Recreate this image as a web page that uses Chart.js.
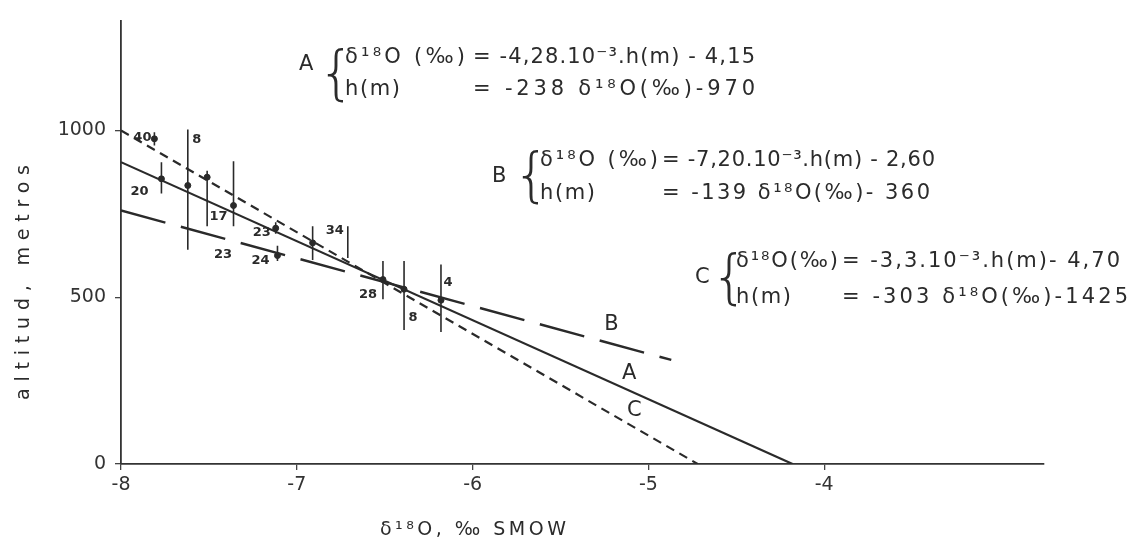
<!DOCTYPE html>
<html>
<head>
<meta charset="utf-8">
<script src="https://cdn.jsdelivr.net/npm/chart.js@4.4.1/dist/chart.umd.min.js"></script>
<style>
    html, body { margin: 0; padding: 0; background: #fff; }
    #wrap { position: relative; width: 1135px; height: 541px; }
    #chart { position: absolute; left: 0; top: 0; }
    #notes { position: absolute; left: 0; top: 0; pointer-events: none; }
    #notes text { font-family: 'DejaVu Sans', sans-serif; fill: #2b2b2b; }
</style>
</head>
<body>
<div id="wrap">
    <canvas id="chart" width="1135" height="541"></canvas>
    <svg id="notes" width="1135" height="541">
        <!-- A -->
        <text x="299" y="70" font-size="21">A</text>
        <text x="318" y="93" font-size="58" font-family="Liberation Sans" font-weight="100">{</text>
        <text x="345" y="63" font-size="21" textLength="120" lengthAdjust="spacing">δ¹⁸O (‰)</text>
        <text x="473" y="63" font-size="21" textLength="282" lengthAdjust="spacing">= -4,28.10⁻³.h(m) - 4,15</text>
        <text x="345" y="95" font-size="21" textLength="55" lengthAdjust="spacing">h(m)</text>
        <text x="473" y="95" font-size="21" textLength="282" lengthAdjust="spacing">= -238 δ¹⁸O(‰)-970</text>
        <!-- B -->
        <text x="492" y="182" font-size="21">B</text>
        <text x="513" y="195" font-size="58" font-family="Liberation Sans" font-weight="100">{</text>
        <text x="540" y="166" font-size="21" textLength="118" lengthAdjust="spacing">δ¹⁸O (‰)</text>
        <text x="662" y="166" font-size="21" textLength="273" lengthAdjust="spacing">= -7,20.10⁻³.h(m) - 2,60</text>
        <text x="540" y="199" font-size="21" textLength="55" lengthAdjust="spacing">h(m)</text>
        <text x="662" y="199" font-size="21" textLength="268" lengthAdjust="spacing">= -139 δ¹⁸O(‰)- 360</text>
        <!-- C -->
        <text x="695" y="283" font-size="21">C</text>
        <text x="711" y="297" font-size="58" font-family="Liberation Sans" font-weight="100">{</text>
        <text x="736" y="267" font-size="21" textLength="102" lengthAdjust="spacing">δ¹⁸O(‰)</text>
        <text x="842" y="267" font-size="21" textLength="278" lengthAdjust="spacing">= -3,3.10⁻³.h(m)- 4,70</text>
        <text x="736" y="303" font-size="21" textLength="55" lengthAdjust="spacing">h(m)</text>
        <text x="842" y="303" font-size="21" textLength="286" lengthAdjust="spacing">= -303 δ¹⁸O(‰)-1425</text>
        <!-- axis titles -->
        <text x="380" y="535" font-size="19" textLength="186" lengthAdjust="spacing">δ¹⁸O, ‰ SMOW</text>
        <text transform="translate(29,400) rotate(-90)" font-size="19" textLength="235" lengthAdjust="spacing">altitud, metros</text>
    </svg>
</div>
<script>
// axis ticks
const xTicks = [-8, -7, -6, -5, -4];
const yTicks = [0, 500, 1000];

// regression lines (end points)
const lineADelta = [-8, -4.18];
const lineAHeight = [905, 0];
const lineBDelta = [-8, -4.87];
const lineBHeight = [760, 312];
const lineCDelta = [-8, -4.72];
const lineCHeight = [1000, 0];

// sampling points: delta, altitude range and mean
const obsDelta = [-7.81, -7.77, -7.62, -7.51, -7.36, -7.12, -7.11, -6.91, -6.71, -6.51, -6.39, -6.18];
const obsLow   = [955, 811, 642, 713, 713, 690, 609, 612, 618, 494, 402, 396];
const obsHigh  = [995, 905, 1003, 879, 908, 725, 654, 713, 713, 609, 609, 598];
const obsMean  = [975, 855, 835, 860, 775, 707, 625, 663, null, 553, 524, 491];
const obsLabel = ['40', '20', '8', '', '17', '23', '24', '', '34', '28', '8', '4'];

// loose tag and line names
const tagText = ['23'];
const tagDelta = [-7.42];
const tagHeight = [627];
const lineNames = ['A', 'B', 'C'];
const lineNameDelta = [-5.11, -5.21, -5.08];
const lineNameHeight = [272, 417, 160];

const INK = '#2a2a2a';
const FONT = "'DejaVu Sans', sans-serif";
const labelOffsets = [[-12, -1], [-22, 14], [9, -50], null, [-15, 23], [-14, 5], [-17, 7], null, [-13, -11], [-15, 15], [9, 22], [7, -16]];

const toPoints = (xs, ys) => xs.map((x, i) => ({ x: x, y: ys[i] }));

function errorBarData() {
    const pts = [];
    obsDelta.forEach((d, i) => {
        pts.push({ x: d, y: obsLow[i] });
        pts.push({ x: d, y: obsHigh[i] });
        pts.push({ x: d, y: null });
    });
    return pts;
}

const textPlugin = {
    id: 'textMarks',
    afterDatasetsDraw(chart) {
        const ctx = chart.ctx;
        const sx = chart.scales.x;
        const sy = chart.scales.y;
        ctx.save();
        ctx.fillStyle = INK;
        ctx.textAlign = 'center';
        ctx.textBaseline = 'middle';

        // labels next to the sample bars
        ctx.font = 'bold 13px ' + FONT;
        obsDelta.forEach((d, i) => {
            const off = labelOffsets[i];
            if (!obsLabel[i] || !off) return;
            const mid = (obsLow[i] + obsHigh[i]) / 2;
            ctx.fillText(obsLabel[i], sx.getPixelForValue(d) + off[0], sy.getPixelForValue(mid) + off[1]);
        });
        tagText.forEach((t, i) => {
            ctx.fillText(t, sx.getPixelForValue(tagDelta[i]), sy.getPixelForValue(tagHeight[i]));
        });

        // line names
        ctx.font = '21px ' + FONT;
        lineNames.forEach((n, i) => {
            ctx.fillText(n, sx.getPixelForValue(lineNameDelta[i]), sy.getPixelForValue(lineNameHeight[i]));
        });
        ctx.restore();
    }
};

new Chart(document.getElementById('chart').getContext('2d'), {
    type: 'line',
    data: {
        datasets: [
            {
                label: 'A',
                data: toPoints(lineADelta, lineAHeight),
                borderColor: INK,
                borderWidth: 2.2,
                pointRadius: 0
            },
            {
                label: 'B',
                data: toPoints(lineBDelta, lineBHeight),
                borderColor: INK,
                borderWidth: 2.4,
                borderDash: [46, 16],
                pointRadius: 0
            },
            {
                label: 'C',
                data: toPoints(lineCDelta, lineCHeight),
                borderColor: INK,
                borderWidth: 2.2,
                borderDash: [9, 6],
                pointRadius: 0
            },
            {
                label: 'range',
                data: errorBarData(),
                borderColor: INK,
                borderWidth: 1.6,
                pointRadius: 0,
                spanGaps: false
            },
            {
                label: 'mean',
                data: toPoints(obsDelta, obsMean).filter(p => p.y !== null),
                showLine: false,
                pointRadius: 3,
                pointBackgroundColor: INK,
                pointBorderColor: INK
            }
        ]
    },
    options: {
        responsive: false,
        animation: false,
        layout: { padding: { top: 15, right: 91, left: 0, bottom: 0 } },
        plugins: {
            legend: { display: false },
            tooltip: { enabled: false }
        },
        scales: {
            x: {
                type: 'linear',
                min: -8,
                max: -2.75,
                afterBuildTicks: s => { s.ticks = xTicks.map(v => ({ value: v })); },
                afterFit: s => { s.height = 77; },
                ticks: {
                    font: { family: FONT, size: 19 },
                    color: '#333',
                    padding: 4,
                    callback: v => '-' + Math.abs(v)
                },
                grid: { drawOnChartArea: false, drawTicks: true, tickLength: 6, color: '#444', lineWidth: 1.3 },
                border: { display: true, color: '#333', width: 1.8 }
            },
            y: {
                type: 'linear',
                min: 0,
                max: 1330,
                afterBuildTicks: s => { s.ticks = yTicks.map(v => ({ value: v })); },
                afterFit: s => { s.width = 121; },
                ticks: {
                    font: { family: FONT, size: 19 },
                    color: '#333',
                    padding: 9,
                    callback: v => String(v)
                },
                grid: { drawOnChartArea: false, drawTicks: true, tickLength: 6, color: '#444', lineWidth: 1.3 },
                border: { display: true, color: '#333', width: 1.8 }
            }
        }
    },
    plugins: [textPlugin]
});
</script>
</body>
</html>
